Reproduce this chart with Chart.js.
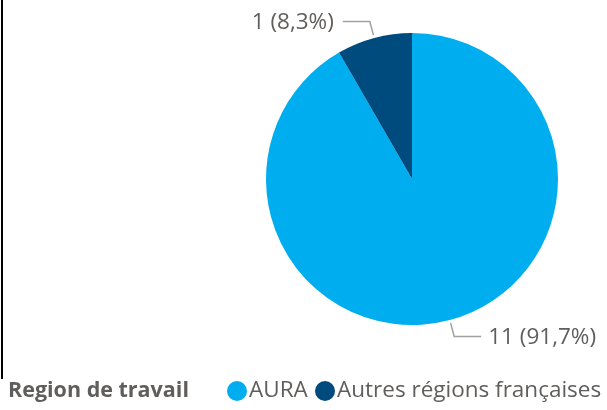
<!DOCTYPE html>
<html>
<head>
<meta charset="utf-8">
<script src="https://cdn.jsdelivr.net/npm/chart.js@4/dist/chart.umd.min.js"></script>
<style>
  html, body { margin: 0; padding: 0; background: #fff; }
  canvas { display: block; }
</style>
</head>
<body>
<canvas id="c" width="607" height="410"></canvas>
<script>
const categories = ['AURA', 'Autres régions françaises'];
const values = [11, 1];
const colors = ['#00AEEF', '#004B7D'];
const legendTitle = 'Region de travail';

const textColor = '#605E5C';
const lineColor = '#A0A0A0';
const fontFamily = '"Open Sans", "Noto Sans", sans-serif';

const total = values.reduce((a, b) => a + b, 0);
const fmtPct = v => (v / total * 100).toFixed(1).replace('.', ',') + '%';

// étiquettes avec lignes de rappel
const labelsPlugin = {
  id: 'labels',
  afterDatasetsDraw(chart) {
    const ctx = chart.ctx;
    const meta = chart.getDatasetMeta(0);
    ctx.save();
    ctx.font = '22.5px ' + fontFamily;
    ctx.textBaseline = 'middle';
    meta.data.forEach((arc, i) => {
      const mid = (arc.startAngle + arc.endAngle) / 2;
      const r = arc.outerRadius;
      const cx = arc.x, cy = arc.y;
      const x0 = cx + Math.cos(mid) * (r + 3);
      const y0 = cy + Math.sin(mid) * (r + 3);
      const x1 = cx + Math.cos(mid) * (r + 17);
      const y1 = cy + Math.sin(mid) * (r + 17);
      const right = Math.cos(mid) >= 0;
      const x2 = x1 + (right ? 27 : -27);
      ctx.strokeStyle = lineColor;
      ctx.lineWidth = 1.5;
      ctx.beginPath();
      ctx.moveTo(x0, y0);
      ctx.lineTo(x1, y1);
      ctx.lineTo(x2, y1);
      ctx.stroke();
      ctx.fillStyle = textColor;
      ctx.textAlign = right ? 'left' : 'right';
      const txt = values[i] + ' (' + fmtPct(values[i]) + ')';
      ctx.fillText(txt, x2 + (right ? 7 : -9), y1 + 1);
    });
    ctx.restore();
  }
};

// légende en ligne + bordure gauche
const legendPlugin = {
  id: 'inlineLegend',
  afterDraw(chart) {
    const ctx = chart.ctx;
    ctx.save();
    ctx.fillStyle = '#000';
    ctx.fillRect(1, 0, 2, 379);

    const y = 391;
    ctx.textBaseline = 'middle';
    ctx.textAlign = 'left';
    ctx.fillStyle = textColor;
    ctx.font = 'bold 21.5px ' + fontFamily;
    ctx.fillText(legendTitle, 8, y);

    const items = [{ cx: 237, tx: 249 }, { cx: 325, tx: 337 }];
    ctx.font = '22.5px ' + fontFamily;
    categories.forEach((cat, i) => {
      ctx.fillStyle = colors[i];
      ctx.beginPath();
      ctx.arc(items[i].cx, y, 10, 0, Math.PI * 2);
      ctx.fill();
      ctx.fillStyle = textColor;
      ctx.fillText(cat, items[i].tx, y);
    });
    ctx.restore();
  }
};

new Chart(document.getElementById('c'), {
  type: 'pie',
  data: {
    labels: categories,
    datasets: [{
      data: values,
      backgroundColor: colors,
      borderWidth: 0
    }]
  },
  options: {
    responsive: false,
    devicePixelRatio: 1,
    animation: false,
    layout: { padding: { left: 266, right: 49, top: 33, bottom: 85 } },
    plugins: {
      legend: { display: false },
      tooltip: { enabled: false }
    }
  },
  plugins: [labelsPlugin, legendPlugin]
});
</script>
</body>
</html>
